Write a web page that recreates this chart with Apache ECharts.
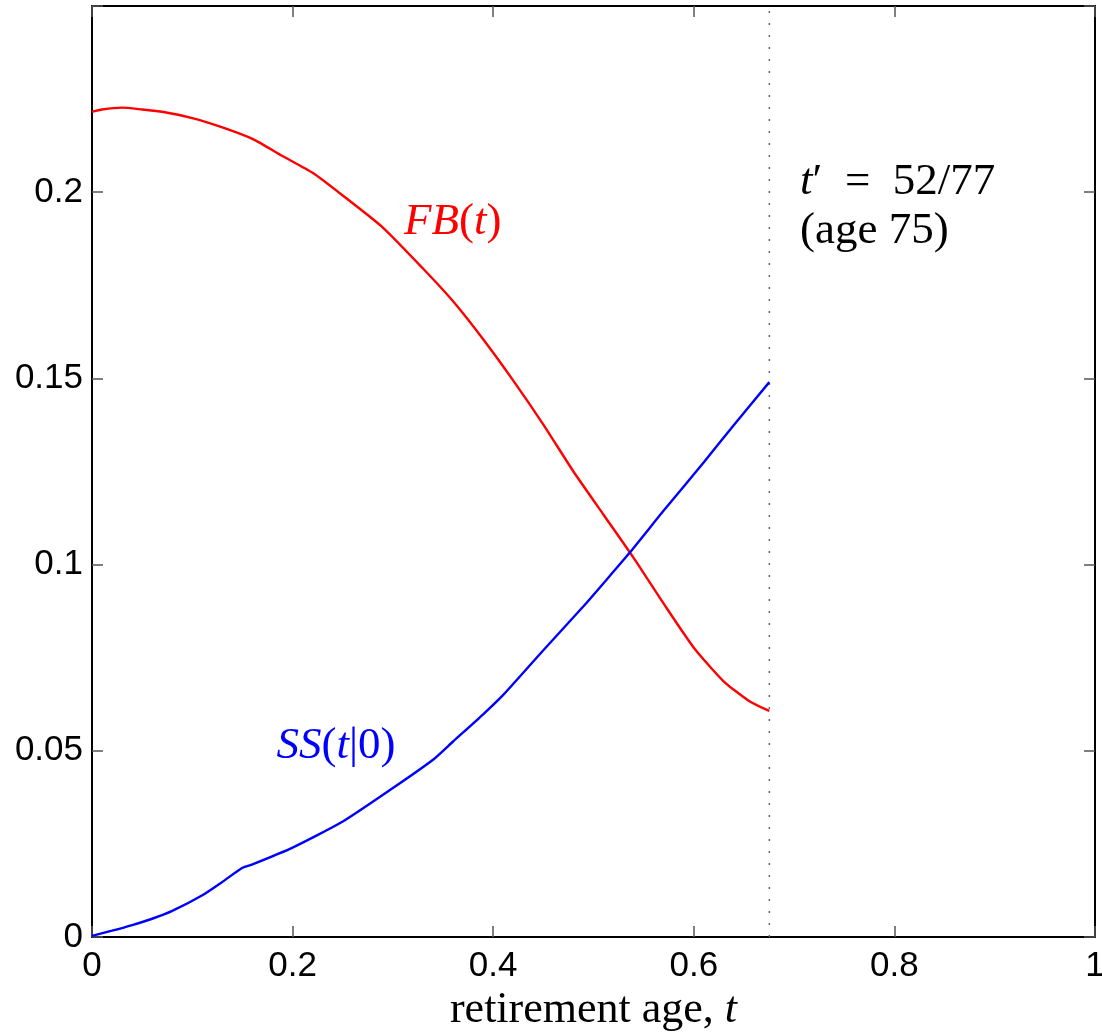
<!DOCTYPE html>
<html>
<head>
<meta charset="utf-8">
<script src="https://cdn.jsdelivr.net/npm/echarts@6/dist/echarts.min.js"></script>
<style>
html,body{margin:0;padding:0;background:#fff;}
#chart{width:1102px;height:1033px;}
</style>
</head>
<body>
<div id="chart"></div>
<script>
// FB(t) curve: [t, value]
const fbT = [0, 0.01, 0.03, 0.05, 0.07, 0.10, 0.13, 0.16, 0.19, 0.22, 0.25, 0.29, 0.33, 0.36, 0.39, 0.42, 0.45, 0.48, 0.51, 0.54, 0.57, 0.60, 0.63, 0.655, 0.6753];
const fbV = [0.2216, 0.2222, 0.2227, 0.2222, 0.2216, 0.2199, 0.2174, 0.2143, 0.2097, 0.2052, 0.1991, 0.1905, 0.1795, 0.1707, 0.1605, 0.1494, 0.1376, 0.1250, 0.1134, 0.1018, 0.0895, 0.0777, 0.0686, 0.0634, 0.0607];
// SS(t|0) curve
const ssT = [0, 0.02, 0.04, 0.06, 0.08, 0.11, 0.13, 0.15, 0.16, 0.20, 0.25, 0.30, 0.34, 0.36, 0.39, 0.41, 0.45, 0.49, 0.51, 0.5364, 0.57, 0.61, 0.64, 0.6753];
const ssV = [0.0003, 0.0017, 0.0032, 0.0049, 0.0070, 0.0112, 0.0148, 0.0186, 0.0195, 0.0240, 0.0310, 0.0400, 0.0476, 0.0525, 0.0598, 0.0650, 0.0770, 0.0888, 0.0950, 0.1033, 0.1145, 0.1275, 0.1375, 0.1490];
// threshold t' = 52/77
const tPrime = 52 / 77;
const xTicks = [0, 0.2, 0.4, 0.6, 0.8, 1];
const yTicks = [0, 0.05, 0.1, 0.15, 0.2];
// annotation anchors [t, value]
const fbLabelPos = [0.311, 0.192];
const ssLabelPos = [0.184, 0.0513];
const tpLabelPos = [0.706, 0.2027];
const ageLabelPos = [0.706, 0.1895];

const zip = (a, b) => a.map((v, i) => [v, b[i]]);
const serif = 'Liberation Serif';
const sans = 'Liberation Sans';

const chart = echarts.init(document.getElementById('chart'));
const tickStyle = { show: true, inside: true, length: 11, lineStyle: { color: '#555', width: 1.5 } };
const axisLine = { show: true, onZero: false, lineStyle: { color: '#000', width: 2 } };

function textSeries(pos, text, rich) {
  return {
    type: 'scatter', data: [pos], symbolSize: 0, silent: true, z: 10,
    label: { show: true, position: 'right', distance: 0, formatter: text, rich: rich }
  };
}
const rich = (color, size) => ({
  i: { fontFamily: serif, fontStyle: 'italic', fontSize: size, color: color, opacity: 1 },
  n: { fontFamily: serif, fontSize: size, color: color, opacity: 1 }
});

chart.setOption({
  animation: false,
  backgroundColor: '#fff',
  grid: { left: 92, right: 7, top: 6, bottom: 96, outerBoundsMode: 'none', containLabel: false },
  xAxis: [
    {
      type: 'value', min: 0, max: 1, interval: 0.2,
      axisLine: axisLine, axisTick: tickStyle, splitLine: { show: false },
      axisLabel: { color: '#000', fontFamily: sans, fontSize: 35, margin: 12,
        formatter: v => (xTicks.some(t => Math.abs(t - v) < 1e-9) ? String(+v.toFixed(1)) : '') },
      name: '{n|retirement age, }{i|t}', nameLocation: 'middle', nameGap: 48,
      nameTextStyle: { rich: rich('#000', 44) }
    },
    {
      type: 'value', min: 0, max: 1, interval: 0.2, position: 'top',
      axisLine: axisLine, axisTick: tickStyle, splitLine: { show: false }, axisLabel: { show: false }
    }
  ],
  yAxis: [
    {
      type: 'value', min: 0, max: 0.25, interval: 0.05,
      axisLine: axisLine, axisTick: tickStyle, splitLine: { show: false },
      axisLabel: {
        color: '#000', fontFamily: sans, fontSize: 35, margin: 9,
        formatter: v => (yTicks.some(t => Math.abs(t - v) < 1e-9) ? String(+v.toFixed(2)) : '')
      }
    },
    {
      type: 'value', min: 0, max: 0.25, interval: 0.05, position: 'right',
      axisLine: axisLine, axisTick: tickStyle, splitLine: { show: false }, axisLabel: { show: false }
    }
  ],
  series: [
    {
      type: 'line', data: [[tPrime, 0], [tPrime, 0.25]], symbol: 'none',
      lineStyle: { color: '#666', width: 1.5, type: [2, 10] }, silent: true
    },
    {
      type: 'line', data: zip(fbT, fbV), symbol: 'none', smooth: 0.2,
      lineStyle: { color: '#ff0000', width: 2.4 }
    },
    {
      type: 'line', data: zip(ssT, ssV), symbol: 'none', smooth: 0.2,
      lineStyle: { color: '#0000ff', width: 2.4 }
    },
    textSeries(fbLabelPos, '{i|FB}{n|(}{i|t}{n|)}', rich('#ff0000', 45)),
    textSeries(ssLabelPos, '{i|SS}{n|(}{i|t}{n||0)}', rich('#0000ff', 45)),
    textSeries(tpLabelPos, '{i|t}{n|′  =  52/77}', rich('#000000', 45)),
    textSeries(ageLabelPos, '{n|(age 75)}', rich('#000000', 45))
  ]
});
</script>
</body>
</html>
